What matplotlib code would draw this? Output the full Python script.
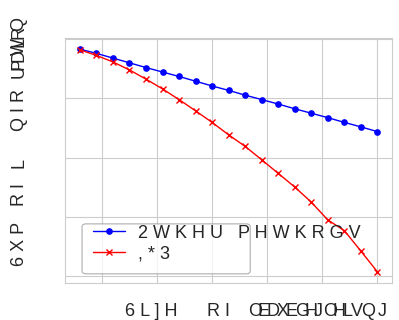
import matplotlib
matplotlib.use("Agg")
import matplotlib.pyplot as plt
import seaborn as sns
from matplotlib.patches import FancyBboxPatch

sns.set_style("whitegrid")
plt.rcParams['font.family'] = ['Liberation Sans', 'DejaVu Sans']

# sample sizes (x) and the two curves
x_vals = [6, 9, 12, 15, 18, 21, 24, 27, 30, 33, 36, 39, 42, 45, 48, 51, 54, 57, 60]
other_methods = [0.766, 0.752, 0.736, 0.720, 0.704, 0.689, 0.674, 0.658, 0.642, 0.627,
                 0.611, 0.596, 0.581, 0.565, 0.550, 0.535, 0.519, 0.504, 0.488]
igp = [0.764, 0.745, 0.723, 0.696, 0.665, 0.632, 0.596, 0.558, 0.519, 0.477,
       0.438, 0.393, 0.347, 0.301, 0.250, 0.190, 0.154, 0.085, 0.015]

x_ticks = [10, 20, 30, 40, 50, 60]
y_ticks = [0.0, 0.2, 0.4, 0.6, 0.8]

W, H = 399, 320
fig = plt.figure(figsize=(W / 100, H / 100), dpi=100)
ax = fig.add_axes([0.163, 0.116, 0.82, 0.765])

ax.plot(x_vals, other_methods, color='blue', marker='o', markersize=3.8, linewidth=1,
        label='2 W K H U   P H W K R G V')
ax.plot(x_vals, igp, color='red', marker='x', markersize=3.8, linewidth=1,
        label=', * 3')

ax.set_xticks(x_ticks)
ax.set_yticks(y_ticks)
ax.set_xticklabels([])
ax.set_yticklabels([])
ax.tick_params(length=0)

def px(x, y):
    return x / W, 1 - y / H

fs = 13

# x label, pieces placed as in the original (the tail is squeezed together)
fig.text(*px(125, 316), '6 L ] H', fontsize=fs, va='baseline', ha='left')
fig.text(*px(207, 316), 'R I', fontsize=fs, va='baseline', ha='left')
for i, ch in enumerate('OEDXEGHJOHLVQ'):
    fig.text(*px(248 + i * 9.4, 316), ch, fontsize=fs, va='baseline', ha='left')
fig.text(*px(378, 316), 'J', fontsize=fs, va='baseline', ha='left')

# y label, same idea (rotated)
fig.text(*px(19, 266), '6 X P', fontsize=fs, rotation=90, va='bottom', ha='center')
fig.text(*px(19, 206), 'R I', fontsize=fs, rotation=90, va='bottom', ha='center')
fig.text(*px(19, 168), 'L', fontsize=fs, rotation=90, va='bottom', ha='center')
fig.text(*px(19, 131), 'Q I R', fontsize=fs, rotation=90, va='bottom', ha='center')
for i, ch in enumerate('UPDWLRQ'):
    fig.text(*px(19, 78 - i * 7.8), ch, fontsize=fs, rotation=90, va='bottom', ha='center')

# legend box drawn separately, text runs past it like in the original
box = FancyBboxPatch((0.052, 0.037), 0.514, 0.204, boxstyle="round,pad=0,rounding_size=0.012",
                     transform=ax.transAxes, facecolor='white', edgecolor='0.6',
                     linewidth=0.8, alpha=0.8, zorder=4)
ax.add_patch(box)
leg = ax.legend(loc='lower left', bbox_to_anchor=(0.04, 0.025), frameon=False,
                fontsize=13, handlelength=1.8, handletextpad=0.7, labelspacing=0.2,
                borderpad=0.3)
leg.set_zorder(5)

fig.savefig("out.png", dpi=100)
